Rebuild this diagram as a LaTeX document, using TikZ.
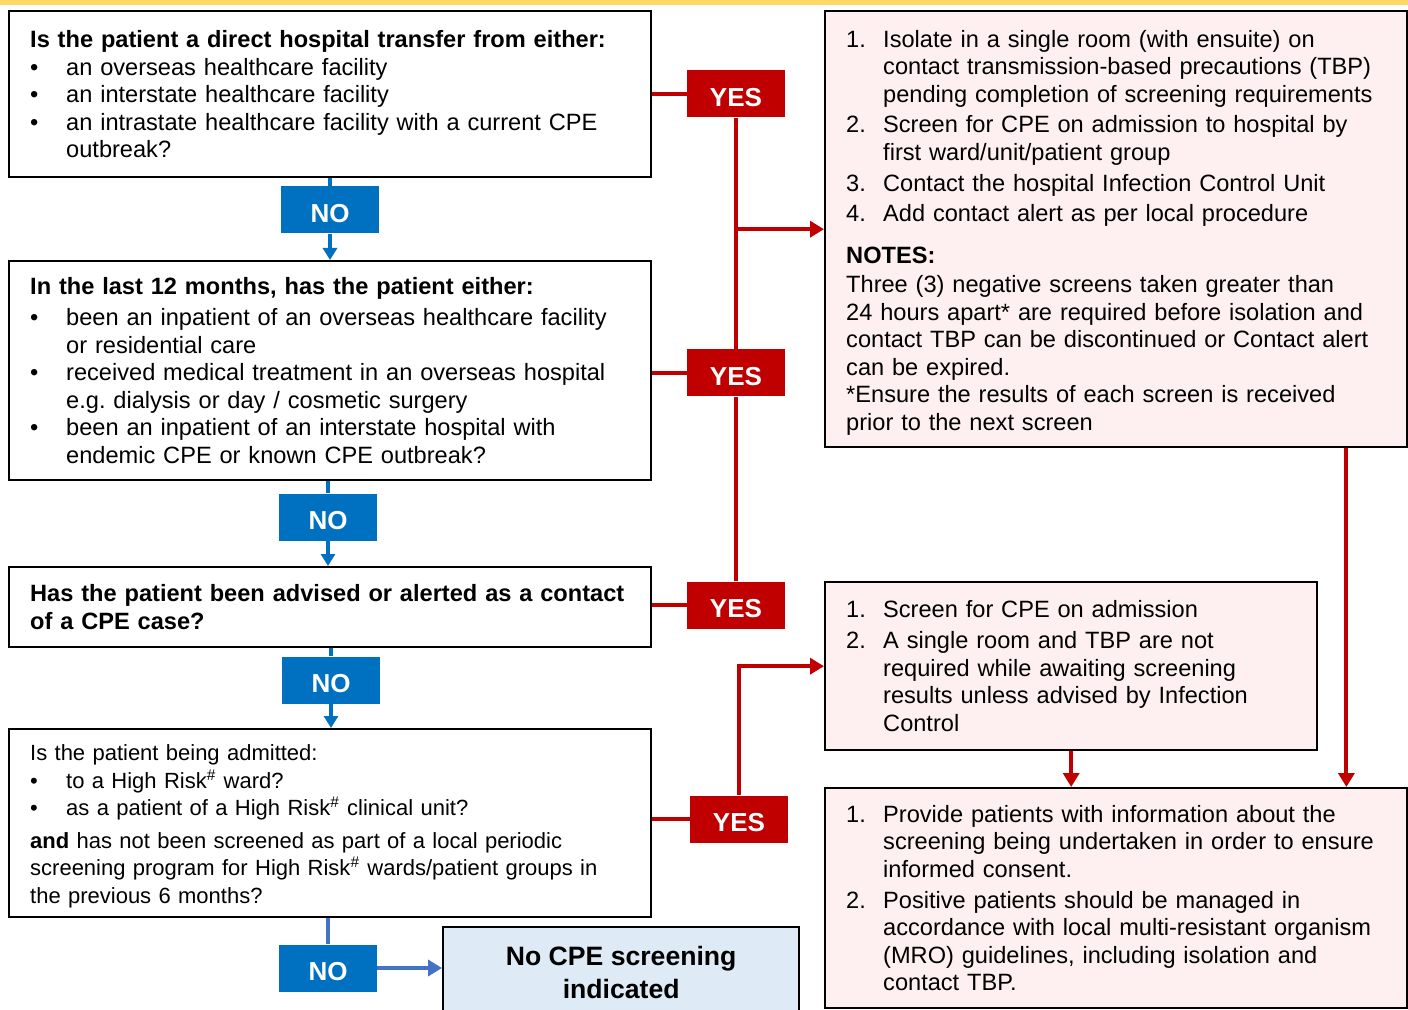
\documentclass[tikz,border=0pt]{standalone}
\usepackage{fontspec}
\setmainfont{Liberation Sans}
\frenchspacing
\usetikzlibrary{arrows.meta}
\definecolor{yesred}{HTML}{C00000}
\definecolor{noblue}{HTML}{0070C0}
\definecolor{nolight}{HTML}{4472C4}
\definecolor{actpink}{HTML}{FEF0F0}
\definecolor{endblue}{HTML}{DEEBF7}
\definecolor{band}{HTML}{FFD966}
\newcommand{\itm}{\makebox[18pt][l]{\textbullet}}
\newcommand{\cnt}{\hspace*{18pt}}
\newcommand{\nitm}[1]{\makebox[18.5pt][l]{#1.}}
\newcommand{\ncnt}{\hspace*{18.5pt}}
\tikzset{
   qbox/.style={draw=black,line width=1.2pt,fill=white,anchor=north west,
      align=left,text width=300pt,inner xsep=10.5pt,inner ysep=0pt,
      font=\fontsize{11.8}{13.8}\selectfont},
   actbox/.style={qbox,fill=actpink,text width=270pt,inner xsep=10.5pt},
   yeslab/.style={fill=yesred,text=white,minimum width=49pt,minimum height=23.5pt,
      inner sep=0pt,text height=12.3pt,text depth=0pt,
      font=\bfseries\fontsize{13}{15}\selectfont},
   nolab/.style={yeslab,fill=noblue},
   yesline/.style={draw=yesred,line width=2pt},
   yesarr/.style={yesline,-{Triangle[width=8pt,length=7pt]}},
   noline/.style={draw=noblue,line width=2pt},
   noarr/.style={noline,-{Triangle[width=7pt,length=6pt]}},
   endline/.style={draw=nolight,line width=2pt},
   endarr/.style={endline,-{Triangle[width=8pt,length=7pt]}}
}
\begin{document}
\begin{tikzpicture}[x=0.5pt,y=-0.5pt]
   \useasboundingbox (0,0) rectangle (1408,1010);
   \fill[band] (0,0) rectangle (1408,5);

   \node[qbox,minimum height=83pt] (q1) at (8,10)
   {\textbf{Is the patient a direct hospital transfer from either:}\\
   \itm an overseas healthcare facility\\
   \itm an interstate healthcare facility\\
   \itm an intrastate healthcare facility with a current CPE\\
   \cnt outbreak?};
   \node[qbox,minimum height=109.5pt] (q2) at (8,260)
   {\textbf{In the last 12 months, has the patient either:}\\[1.5pt]
   \itm been an inpatient of an overseas healthcare facility\\
   \cnt or residential care\\
   \itm received medical treatment in an overseas hospital\\
   \cnt e.g. dialysis or day / cosmetic surgery\\
   \itm been an inpatient of an interstate hospital with\\
   \cnt endemic CPE or known CPE outbreak?};
   \node[qbox,minimum height=40pt] (q3) at (8,566)
   {\mbox{\textbf{Has the patient been advised or alerted as a contact}}\\
   \textbf{of a CPE case?}};
   \node[qbox,minimum height=94pt,font=\fontsize{11}{13.8}\selectfont] (q4) at (8,728)
   {\rule{0pt}{11pt}Is the patient being admitted:\\
   \itm to a High Risk\textsuperscript{\#} ward?\\
   \itm as a patient of a High Risk\textsuperscript{\#} clinical unit?\\[2.5pt]
   \textbf{and} has not been screened as part of a local periodic\\
   screening program for High Risk\textsuperscript{\#} wards/patient groups in\\
   the previous 6 months?};

   \node[actbox,minimum height=218pt] (r1) at (824,10)
   {\rule{0pt}{12pt}\nitm{1}Isolate in a single room (with ensuite) on\\
   \ncnt contact transmission-based precautions (TBP)\\
   \ncnt pending completion of screening requirements\\[1.5pt]
   \nitm{2}Screen for CPE on admission to hospital by\\
   \ncnt first ward/unit/patient group\\[1.5pt]
   \nitm{3}Contact the hospital Infection Control Unit\\[1.5pt]
   \nitm{4}Add contact alert as per local procedure\\[7pt]
   \textbf{NOTES:}\\[0.8pt]
   Three (3) negative screens taken greater than\\
   24 hours apart* are required before isolation and\\
   contact TBP can be discontinued or Contact alert\\
   can be expired.\\
   {*}Ensure the results of each screen is received\\
   prior to the next screen};
   \node[actbox,text width=225pt,minimum height=84pt] (r2) at (824,581)
   {\nitm{1}Screen for CPE on admission\\[1.5pt]
   \nitm{2}A single room and TBP are not\\
   \ncnt required while awaiting screening\\
   \ncnt results unless advised by Infection\\
   \ncnt Control};
   \node[actbox,minimum height=110pt] (r3) at (824,787)
   {\nitm{1}Provide patients with information about the\\
   \ncnt screening being undertaken in order to ensure\\
   \ncnt informed consent.\\[1.5pt]
   \nitm{2}Positive patients should be managed in\\
   \ncnt accordance with local multi-resistant organism\\
   \ncnt (MRO) guidelines, including isolation and\\
   \ncnt contact TBP.};
   \node[draw=black,line width=1.2pt,fill=endblue,anchor=north west,
   minimum width=178pt,minimum height=45pt,align=center,
   font=\bfseries\fontsize{13.3}{16.5}\selectfont] (fin) at (442,926)
   {No CPE screening\\indicated};

   \node[nolab] (n1) at (330,210) {NO};
   \node[nolab] (n2) at (328,517) {NO};
   \node[nolab] (n3) at (331,680) {NO};
   \node[nolab] (n4) at (328,968) {NO};
   \node[yeslab] (y1) at (736,94) {YES};
   \node[yeslab] (y2) at (736,373) {YES};
   \node[yeslab] (y3) at (736,605) {YES};
   \node[yeslab] (y4) at (739,819) {YES};

   \draw[noline] (n1 |- q1.south) -- (n1);
   \draw[noarr] (n1) -- (n1 |- q2.north);
   \draw[noline] (n2 |- q2.south) -- (n2);
   \draw[noarr] (n2) -- (n2 |- q3.north);
   \draw[noline] (n3 |- q3.south) -- (n3);
   \draw[noarr] (n3) -- (n3 |- q4.north);
   \draw[endline] (n4 |- q4.south) -- (n4);
   \draw[endarr] (n4.east) -- (n4.east -| fin.west);

   \draw[yesline] (q1.east |- y1) -- (y1);
   \draw[yesline] (q2.east |- y2) -- (y2);
   \draw[yesline] (q3.east |- y3) -- (y3);
   \draw[yesline] (q4.east |- y4) -- (y4);
   \draw[yesline] (y1) -- (y2);
   \draw[yesline] (y2) -- (y3);
   \draw[yesarr] (y1 |- r1.west) -- (r1.west);
   \draw[yesarr] (y4) |- (r2.west);
   \draw[yesarr] ([xshift=-31pt]r1.south east) -- ([xshift=-31pt]r1.south east |- r3.north);
   \draw[yesarr] (r2.south) -- (r2.south |- r3.north);
\end{tikzpicture}
\end{document}
